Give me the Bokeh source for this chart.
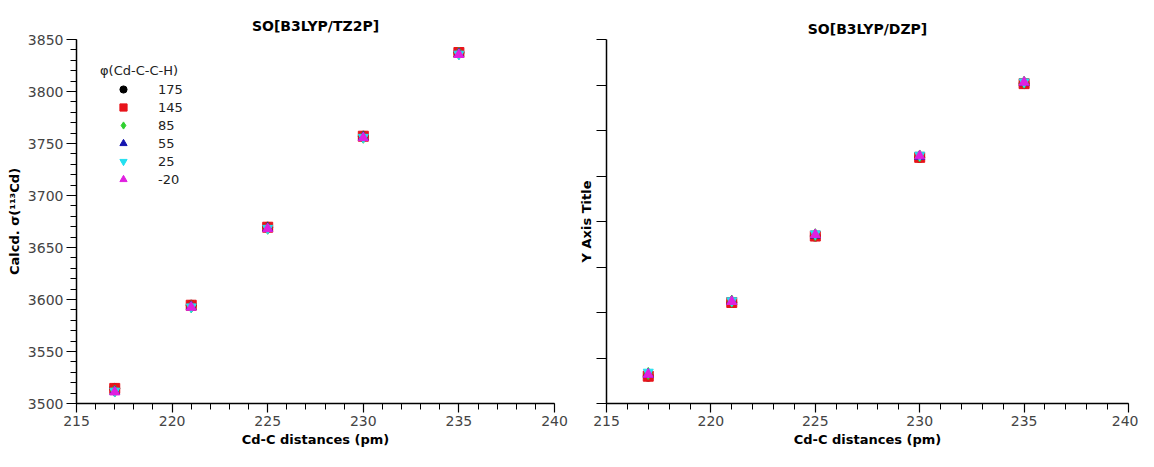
from bokeh.plotting import figure
from bokeh.layouts import row
from bokeh.models import (SingleIntervalTicker, Range1d, Legend, LegendItem,
                          CustomJSTickFormatter)
from bokeh.embed import file_html
from bokeh.resources import INLINE

# ---- data -------------------------------------------------------------
x_pm = [217, 221, 225, 230, 235]
phi_labels = ["175", "145", "85", "55", "25", "-20"]

# SO[B3LYP/TZ2P]  calcd. sigma(113Cd)
tz2p_175 = [3514.5, 3594.5, 3669.5, 3757.0, 3837.5]
tz2p_145 = [3514.5, 3594.5, 3669.5, 3757.0, 3837.5]
tz2p_85 = [3512.0, 3593.0, 3668.5, 3756.0, 3836.5]
tz2p_55 = [3511.5, 3593.0, 3668.5, 3756.0, 3836.0]
tz2p_25 = [3512.0, 3593.0, 3668.5, 3756.0, 3836.0]
tz2p_m20 = [3511.0, 3592.5, 3668.0, 3755.5, 3835.5]

# SO[B3LYP/DZP]
dzp_175 = [3480.0, 3561.0, 3634.0, 3720.5, 3801.5]
dzp_145 = [3480.0, 3561.0, 3634.0, 3720.5, 3801.5]
dzp_85 = [3483.0, 3562.5, 3635.5, 3722.0, 3803.0]
dzp_55 = [3482.0, 3562.0, 3635.0, 3721.5, 3802.5]
dzp_25 = [3484.5, 3563.0, 3636.5, 3723.0, 3803.5]
dzp_m20 = [3482.0, 3562.0, 3635.5, 3722.0, 3803.0]

tz2p_series = [tz2p_175, tz2p_145, tz2p_85, tz2p_55, tz2p_25, tz2p_m20]
dzp_series = [dzp_175, dzp_145, dzp_85, dzp_55, dzp_25, dzp_m20]

markers = ["circle", "square", "diamond", "triangle", "inverted_triangle", "triangle"]
sizes = [10, 10, 12, 10, 10, 10]
colors = ["#000000", "#e8141b", "#2fd02f", "#1515b0", "#22e0f0", "#e020e0"]

TICK_FONT = "DejaVu Sans"


def style(p, ylabel, show_ylabels=True, y_minor=5):
    p.xaxis.ticker = SingleIntervalTicker(interval=5, num_minor_ticks=5)
    p.yaxis.ticker = SingleIntervalTicker(interval=50, num_minor_ticks=y_minor)
    for ax in (p.xaxis[0], p.yaxis[0]):
        ax.axis_line_color = "black"
        ax.axis_line_width = 1.5
        ax.major_tick_line_color = "black"
        ax.minor_tick_line_color = "black"
        ax.major_tick_line_width = 1.2
        ax.minor_tick_line_width = 1.0
        ax.major_tick_in = 0
        ax.major_tick_out = 10
        ax.minor_tick_in = 0
        ax.minor_tick_out = 6
        ax.major_label_text_font = TICK_FONT
        ax.major_label_text_font_size = "14px"
        ax.major_label_text_color = "#444444"
        ax.major_label_standoff = 3
        ax.axis_label_text_font = "DejaVu Sans"
        ax.axis_label_text_font_style = "bold"
        ax.axis_label_text_font_size = "13px"
        ax.axis_label_text_color = "black"
        ax.axis_label_standoff = 3
    p.xaxis.major_tick_out = 9
    p.xaxis.axis_label = "Cd-C distances (pm)"
    p.yaxis.axis_label = ylabel
    if not show_ylabels:
        p.yaxis.formatter = CustomJSTickFormatter(code="return ''")
        p.yaxis.major_label_standoff = 0
    p.xgrid.visible = False
    p.ygrid.visible = False
    p.outline_line_color = None
    p.background_fill_color = "white"
    p.border_fill_color = "white"
    p.title.text_font = "DejaVu Sans"
    p.title.text_font_style = "bold"
    p.title.text_font_size = "14px"
    p.title.align = "center"
    p.title.text_color = "black"


# ---- left: TZ2P -------------------------------------------------------
p1 = figure(width=572, height=451, output_backend="svg", toolbar_location=None,
            x_range=Range1d(215, 240), y_range=Range1d(3500, 3850),
            title="SO[B3LYP/TZ2P]",
            min_border_left=76, min_border_right=18,
            min_border_top=39, min_border_bottom=48)
style(p1, "Calcd. σ(¹¹³Cd)")
p1.title.standoff = 12

items = []
for lab, ys, m, s, c in zip(phi_labels, tz2p_series, markers, sizes, colors):
    r = p1.scatter(x_pm, ys, marker=m, size=s, fill_color=c, line_color=c)
    items.append(LegendItem(label=lab, renderers=[r]))

legend = Legend(items=items, location="top_left", title="φ(Cd-C-C-H)")
legend.title_text_font = "DejaVu Sans"
legend.title_text_font_size = "13px"
legend.title_text_font_style = "normal"
legend.title_text_color = "#222222"
legend.title_standoff = 2
legend.label_text_font = "DejaVu Sans"
legend.label_text_font_size = "13px"
legend.label_text_color = "#222222"
legend.border_line_color = None
legend.background_fill_alpha = 0
legend.glyph_width = 46
legend.glyph_height = 18
legend.label_height = 18
legend.label_standoff = 12
legend.spacing = 0
legend.padding = 4
legend.margin = 24
p1.add_layout(legend)

# ---- right: DZP -------------------------------------------------------
p2 = figure(width=566, height=451, output_backend="svg", toolbar_location=None,
            x_range=Range1d(215, 240), y_range=Range1d(3450, 3850),
            title="SO[B3LYP/DZP]",
            min_border_left=34, min_border_right=10,
            min_border_top=32, min_border_bottom=48)
style(p2, "Y Axis Title", show_ylabels=False, y_minor=0)
p2.title.standoff = 5

for ys, m, s, c in zip(dzp_series, markers, sizes, colors):
    p2.scatter(x_pm, ys, marker=m, size=s, fill_color=c, line_color=c)

layout = row(p1, p2)
open("out.html", "w").write(file_html(layout, INLINE))
